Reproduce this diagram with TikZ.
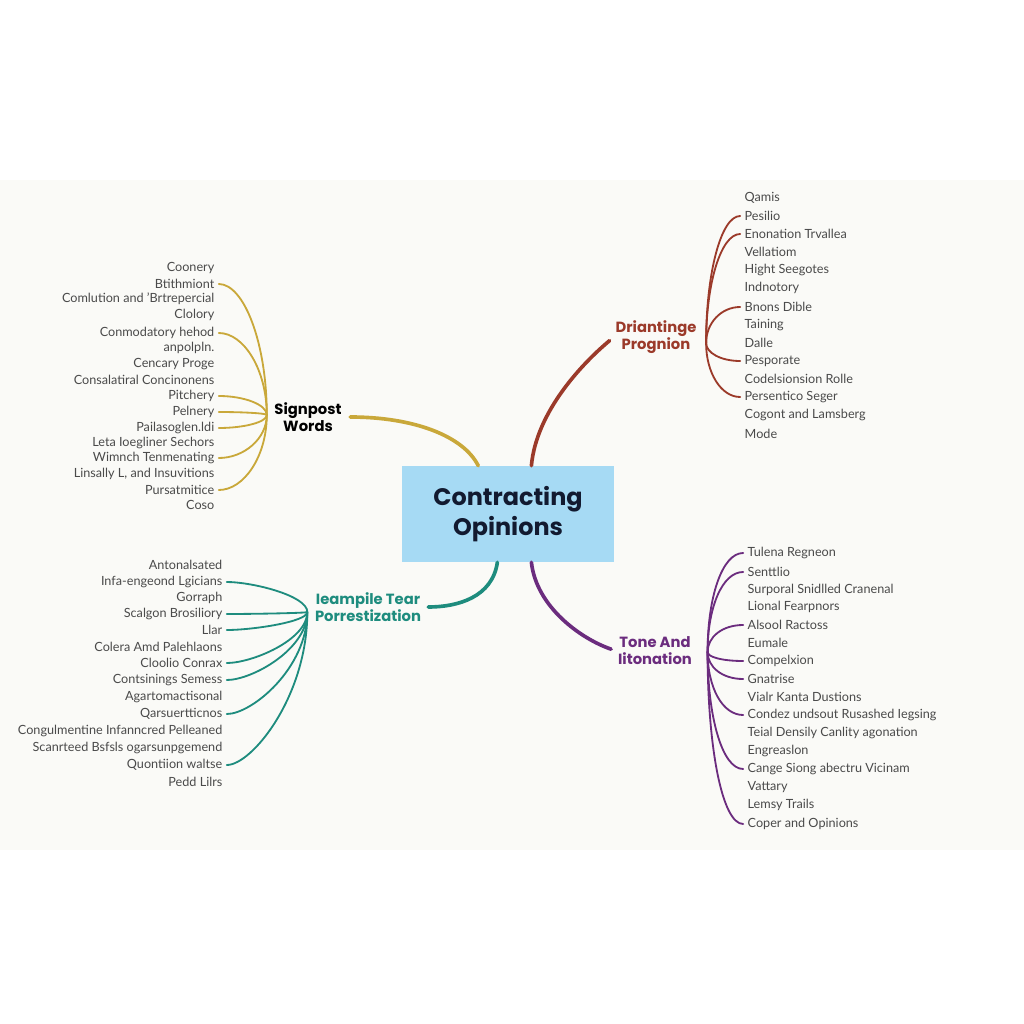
\documentclass[tikz,border=0pt]{standalone}
\usepackage{fontspec}
\setmainfont{Lato}
\newfontfamily\popfont{Poppins}
\usetikzlibrary{calc}
\definecolor{yel}{HTML}{C9A83A}
\definecolor{rbr}{HTML}{9B3A2A}
\definecolor{tea}{HTML}{1E8C7E}
\definecolor{pur}{HTML}{6B2C7E}
\definecolor{boxb}{HTML}{A6DAF4}
\definecolor{navy}{HTML}{121A30}
\definecolor{leafg}{HTML}{4A4A4A}
\definecolor{band}{HTML}{FAFAF7}
\begin{document}
\begin{tikzpicture}[x=0.25mm,y=-0.25mm,
  leafL/.style={anchor=east,inner sep=1pt,text=leafg,font=\fontsize{9}{10}\selectfont},
  leafR/.style={anchor=west,inner sep=1pt,text=leafg,font=\fontsize{9}{10}\selectfont},
  blabel/.style={align=center,inner sep=1pt,font=\popfont\fontsize{10.5}{12}\selectfont\bfseries},
  mainline/.style={line width=2.6pt,line cap=round},
  fanline/.style={line width=1.3pt,line cap=round,shorten >=2pt}]
\useasboundingbox (0,0) rectangle (1024,1024);
\fill[white] (0,0) rectangle (1024,1024);
\fill[band] (0,180) rectangle (1024,850);

% center
\node[fill=boxb,minimum width=53mm,minimum height=24mm,inner sep=0pt,align=center,
  text=navy,font=\popfont\fontsize{17}{21}\selectfont\bfseries] (box) at (508,514) {Contracting\\Opinions};

% branch labels
\node[blabel,text=black] (sig) at (308,417) {Signpost\\Words};
\node[blabel,text=rbr] (rlab) at (656,337) {Driantinge\\Prognion};
\node[blabel,text=tea] (glab) at (368,607) {Ieampile Tear\\Porrestization};
\node[blabel,text=pur] (plab) at (655,651) {Tone And\\Iitonation};

% main branches
\coordinate (ytop) at ($(box.north west)!0.36!(box.north east)$);
\coordinate (rtop) at ($(box.north west)!0.61!(box.north east)$);
\coordinate (gbot) at ($(box.south west)!0.45!(box.south east)$);
\coordinate (pbot) at ($(box.south west)!0.61!(box.south east)$);
\draw[mainline,yel,shorten <=5pt] (sig.east) .. controls +(70,0) and +(-15,-30) .. (ytop);
\draw[mainline,rbr,shorten >=4pt] (rtop) .. controls +(5,-55) and +(-30,25) .. (rlab.west);
\draw[mainline,tea,shorten >=4pt] (gbot) .. controls +(-5,35) and +(35,0) .. (glab.east);
\draw[mainline,pur,shorten >=4pt] (pbot) .. controls +(5,45) and +(-35,-12) .. (plab.west);

% junctions
\coordinate (J1) at ($(sig.west)+(-6,-2)$);
\coordinate (J2) at ($(rlab.east)+(8,6)$);
\coordinate (J3) at ($(glab.west)+(-6,5)$);
\coordinate (J4) at ($(plab.east)+(14,1)$);

% leaves top-left
\foreach \t/\y/\n in {Coonery/268/1,Btithmiont/284/2,{Comlution and 'Brtrepercial}/299/3,Clolory/315/4,
  {Conmodatory hehod}/333/5,anpolpln./348/6,{Cencary Proge}/364/7,{Consalatiral Concinonens}/380/8,
  Pitchery/396/9,Pelnery/412/10,Pailasoglen.ldi/428/11,{Leta Ioegliner Sechors}/443/12,
  {Wimnch Tenmenating}/458/13,{Linsally L, and Insuvitions}/474/14,Pursatmitice/490/15,Coso/505/16}
  \node[leafL] (yl\n) at (216,\y) {\t};
% leaves top-right
\foreach \t/\y/\n in {Qamis/198/1,Pesilio/216/2,{Enonation Trvallea}/234/3,Vellatiom/252/4,
  {Hight Seegotes}/270/5,Indnotory/288/6,{Bnons Dible}/307/7,Taining/325/8,Dalle/343/9,
  Pesporate/361/10,{Codelsionsion Rolle}/379/11,{Persentico Seger}/397/12,
  {Cogont and Lamsberg}/415/13,Mode/434/14}
  \node[leafR] (rl\n) at (743,\y) {\t};
% leaves bottom-left
\foreach \t/\y/\n in {Antonalsated/565/1,{Infa-engeond Lgicians}/582/2,Gorraph/598/3,
  {Scalgon Brosiliory}/614/4,Llar/630/5,{Colera Amd Palehlaons}/647/6,{Cloolio Conrax}/663/7,
  {Contsinings Semess}/680/8,Agartomactisonal/697/9,Qarsuertticnos/714/10,
  {Congulmentine Infanncred Pelleaned}/731/11,{Scanrteed Bsfsls ogarsunpgemend}/748/12,
  {Quontiion waltse}/765/13,{Pedd Lilrs}/782/14}
  \node[leafL] (gl\n) at (224,\y) {\t};
% leaves bottom-right
\foreach \t/\y/\n in {{Tulena Regneon}/553/1,Senttlio/572/2,{Surporal Snidlled Cranenal}/590/3,
  {Lional Fearpnors}/607/4,{Alsool Ractoss}/625/5,Eumale/643/6,Compelxion/661/7,Gnatrise/679/8,
  {Vialr Kanta Dustions}/697/9,{Condez undsout Rusashed Iegsing}/715/10,
  {Teial Densily Canlity agonation}/733/11,Engreaslon/751/12,{Cange Siong abectru Vicinam}/769/13,
  Vattary/787/14,{Lemsy Trails}/805/15,{Coper and Opinions}/824/16}
  \node[leafR] (pl\n) at (746,\y) {\t};

% fans
\foreach \n in {2,5,9,10,11,13,15}
  \draw[fanline,yel] (J1) .. controls ($(J1)!0.55!(J1|-yl\n.east)$) and ($(yl\n.east)+(28,0)$) .. (yl\n.east);
\foreach \n in {2,3,7,10,12}
  \draw[fanline,rbr] (J2) .. controls ($(J2)!0.55!(J2|-rl\n.west)$) and ($(rl\n.west)+(-22,0)$) .. (rl\n.west);
\foreach \n in {2,4,5,7,8,10,13}
  \draw[fanline,tea] (J3) .. controls ($(J3)!0.55!(J3|-gl\n.east)$) and ($(gl\n.east)+(28,0)$) .. (gl\n.east);
\foreach \n in {1,2,5,7,8,10,13,16}
  \draw[fanline,pur] (J4) .. controls ($(J4)!0.55!(J4|-pl\n.west)$) and ($(pl\n.west)+(-24,0)$) .. (pl\n.west);
\end{tikzpicture}
\end{document}
